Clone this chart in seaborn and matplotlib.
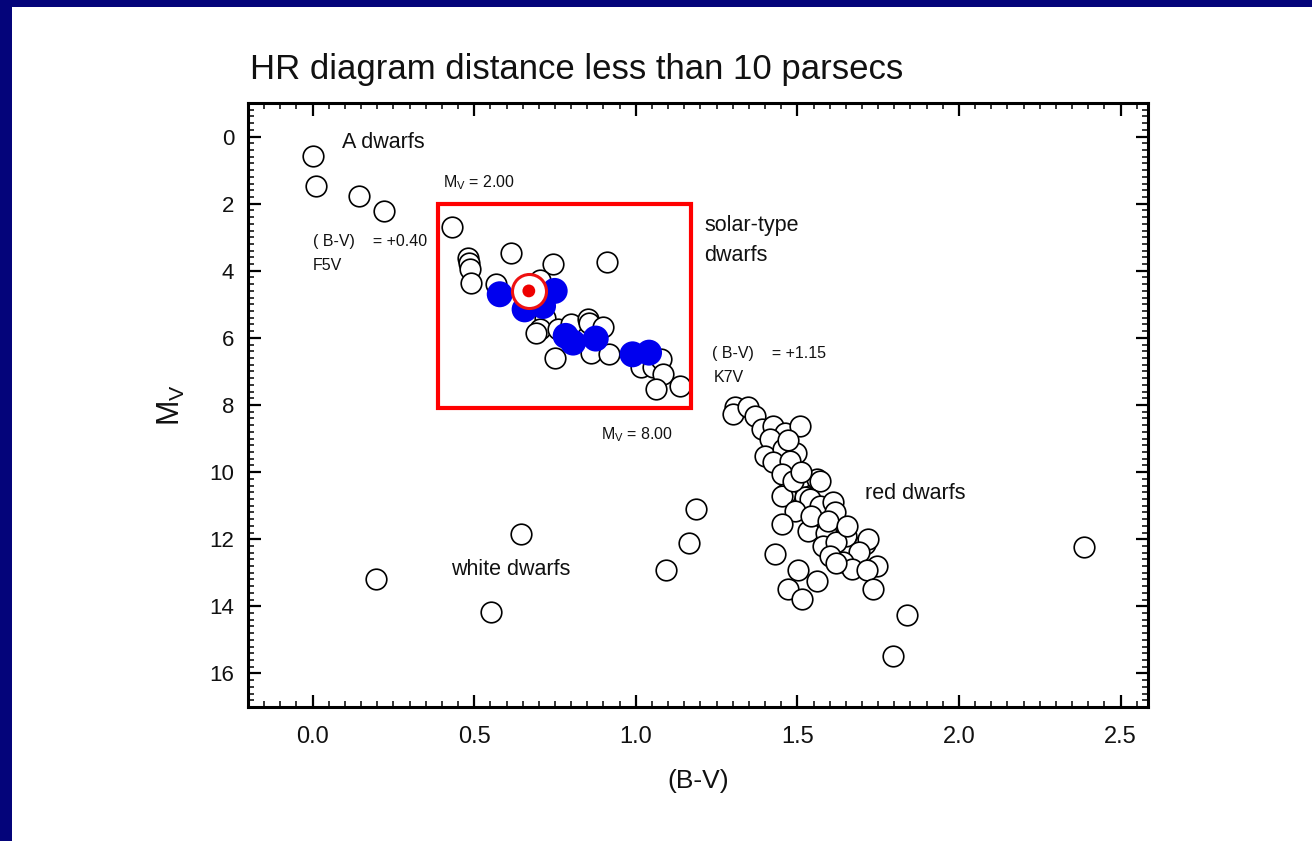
import matplotlib
matplotlib.use("Agg")
import matplotlib.pyplot as plt
from matplotlib.patches import Rectangle
from matplotlib.ticker import MultipleLocator
import seaborn as sns
import pandas as pd

# ---------------- data ----------------
a_dwarf_bv = [0.00, 0.01, 0.143, 0.22, 0.43]
a_dwarf_mv = [0.59, 1.46, 1.76, 2.22, 2.69]

solar_white_bv = [0.481, 0.484, 0.486, 0.491, 0.613, 0.744, 0.911, 0.568, 0.703,
                  0.718, 0.703, 0.692, 0.760, 0.800, 0.853, 0.855, 0.899, 0.749,
                  0.862, 0.917, 1.017, 1.053, 1.079, 1.084, 1.063, 1.136]
solar_white_mv = [3.61, 3.76, 3.96, 4.35, 3.46, 3.81, 3.74, 4.40, 4.26,
                  5.40, 5.74, 5.84, 5.74, 5.60, 5.45, 5.55, 5.69, 6.59,
                  6.44, 6.49, 6.88, 6.88, 6.64, 7.08, 7.51, 7.43]

solar_blue_bv = [0.579, 0.749, 0.656, 0.713, 0.783, 0.806, 0.876, 0.990, 1.041]
solar_blue_mv = [4.70, 4.60, 5.15, 5.05, 5.94, 6.14, 6.02, 6.49, 6.44]

sun_bv = [0.669]
sun_mv = [4.60]

red_dwarf_bv = [1.307, 1.302, 1.348, 1.368, 1.389, 1.425, 1.461, 1.508, 1.415,
                1.399, 1.456, 1.497, 1.425, 1.477, 1.451, 1.513, 1.560, 1.570,
                1.461, 1.451, 1.523, 1.540, 1.492, 1.570, 1.610, 1.615, 1.451,
                1.533, 1.590, 1.652, 1.579, 1.620, 1.708, 1.720, 1.690, 1.640,
                1.670, 1.745, 1.715, 1.735, 1.430, 1.503, 1.560, 1.472, 1.513,
                1.487, 1.542, 1.595, 1.655, 1.600, 1.620, 1.470, 1.510,
                1.840, 1.797, 2.388]
red_dwarf_mv = [8.07, 8.27, 8.07, 8.32, 8.72, 8.62, 8.82, 8.62, 9.02,
                9.51, 9.32, 9.42, 9.71, 9.66, 10.06, 10.16, 10.21, 10.26,
                10.65, 10.71, 10.75, 10.80, 11.15, 11.00, 10.90, 11.20, 11.55,
                11.75, 11.80, 11.89, 12.19, 12.09, 12.14, 12.00, 12.39, 12.69,
                12.89, 12.79, 12.93, 13.48, 12.44, 12.93, 13.24, 13.48, 13.78,
                10.26, 11.30, 11.45, 11.60, 12.50, 12.70, 9.05, 10.00,
                14.27, 15.47, 12.24]

white_dwarf_bv = [1.186, 1.165, 1.095, 0.644, 0.195, 0.553]
white_dwarf_mv = [11.10, 12.12, 12.93, 11.83, 13.18, 14.18]

box_bv = [0.388, 1.172]
box_mv = [2.00, 8.08]

x_ticks = [0.0, 0.5, 1.0, 1.5, 2.0, 2.5]
x_ticklabels = ["0.0", "0.5", "1.0", "1.5", "2.0", "2.5"]
y_ticks = [0, 2, 4, 6, 8, 10, 12, 14, 16]
y_ticklabels = ["0", "2", "4", "6", "8", "10", "12", "14", "16"]

title = "HR diagram distance less than 10 parsecs"

# ---------------- style ----------------
sns.set_style("white")
plt.rcParams["font.family"] = ["Liberation Sans", "DejaVu Sans"]
plt.rcParams["mathtext.default"] = "regular"
narrow = ["Liberation Sans Narrow", "Liberation Sans", "DejaVu Sans"]
txt_col = "#111111"

fig = plt.figure(figsize=(13.12, 8.41), dpi=100, facecolor="#04047a")
# white slide area
fig.patches.append(Rectangle((12 / 1312, 0), 1, 1 - 7 / 841, transform=fig.transFigure,
                             facecolor="white", edgecolor="none", zorder=-5))

ax = fig.add_axes([248 / 1312, 1 - 707 / 841, (1148 - 248) / 1312, (707 - 103) / 841])
ax.set_zorder(3)
ax.set_facecolor("white")

white_all = pd.DataFrame({
    "bv": a_dwarf_bv + solar_white_bv + red_dwarf_bv + white_dwarf_bv,
    "mv": a_dwarf_mv + solar_white_mv + red_dwarf_mv + white_dwarf_mv,
})
blue_df = pd.DataFrame({"bv": solar_blue_bv, "mv": solar_blue_mv})
sun_df = pd.DataFrame({"bv": sun_bv, "mv": sun_mv})

sns.scatterplot(data=white_all, x="bv", y="mv", s=220, color="white",
                edgecolor="black", linewidth=1.2, ax=ax, zorder=2)
sns.scatterplot(data=blue_df, x="bv", y="mv", s=350, color="#0000ee",
                edgecolor="none", linewidth=0, ax=ax, zorder=3)
sns.scatterplot(data=sun_df, x="bv", y="mv", s=600, color="white",
                edgecolor="#ee1111", linewidth=2.2, ax=ax, zorder=4)
sns.scatterplot(data=sun_df, x="bv", y="mv", s=85, color="#ee0000",
                edgecolor="none", linewidth=0, ax=ax, zorder=5)

ax.add_patch(Rectangle((box_bv[0], box_mv[0]), box_bv[1] - box_bv[0], box_mv[1] - box_mv[0],
                       fill=False, edgecolor="#ff0000", linewidth=3.0, zorder=6))

ax.set_xlim(-0.2, 2.585)
ax.set_ylim(17, -1)

ax.set_xticks(x_ticks)
ax.set_xticklabels(x_ticklabels, family=narrow, fontsize=17, color=txt_col)
ax.set_yticks(y_ticks)
ax.set_yticklabels(y_ticklabels, fontsize=16, color=txt_col)
ax.xaxis.set_minor_locator(MultipleLocator(0.05))
ax.yaxis.set_minor_locator(MultipleLocator(0.2))
ax.tick_params(which="both", direction="in", top=True, right=True, bottom=True, left=True,
               color="black")
ax.tick_params(which="major", length=9, width=1.6)
ax.tick_params(which="minor", length=4.5, width=1.1)
ax.tick_params(axis="x", which="major", pad=14)
ax.tick_params(axis="y", which="major", pad=10)
for sp in ax.spines.values():
    sp.set_visible(True)
    sp.set_linewidth(2.2)
    sp.set_color("black")

ax.set_xlabel("(B-V)", family=narrow, fontsize=19, color=txt_col, labelpad=15)
ax.set_ylabel("M$_V$", fontsize=22, color=txt_col, labelpad=16)

fig.text(250 / 1312, 1 - 69 / 841, title, fontsize=25, color=txt_col, va="center", ha="left")

big = 15.5
small = 11.5
ax.text(0.090, 0.18, "A dwarfs", fontsize=big, color=txt_col, va="center")
ax.text(0.402, 1.37, "M$_V$ = 2.00", fontsize=small, color=txt_col, va="center")
ax.text(0.0, 3.13, "( B-V)    = +0.40", fontsize=small, color=txt_col, va="center")
ax.text(0.0, 3.84, "F5V", fontsize=small, color=txt_col, va="center")
ax.text(1.211, 2.65, "solar-type", fontsize=big, color=txt_col, va="center")
ax.text(1.211, 3.54, "dwarfs", fontsize=big, color=txt_col, va="center")
ax.text(1.235, 6.46, "( B-V)    = +1.15", fontsize=small, color=txt_col, va="center")
ax.text(1.241, 7.17, "K7V", fontsize=small, color=txt_col, va="center")
ax.text(0.892, 8.87, "M$_V$ = 8.00", fontsize=small, color=txt_col, va="center")
ax.text(1.709, 10.63, "red dwarfs", fontsize=big, color=txt_col, va="center")
ax.text(0.427, 12.89, "white dwarfs", fontsize=big, color=txt_col, va="center")

fig.savefig("out.png", dpi=100, facecolor=fig.get_facecolor())
